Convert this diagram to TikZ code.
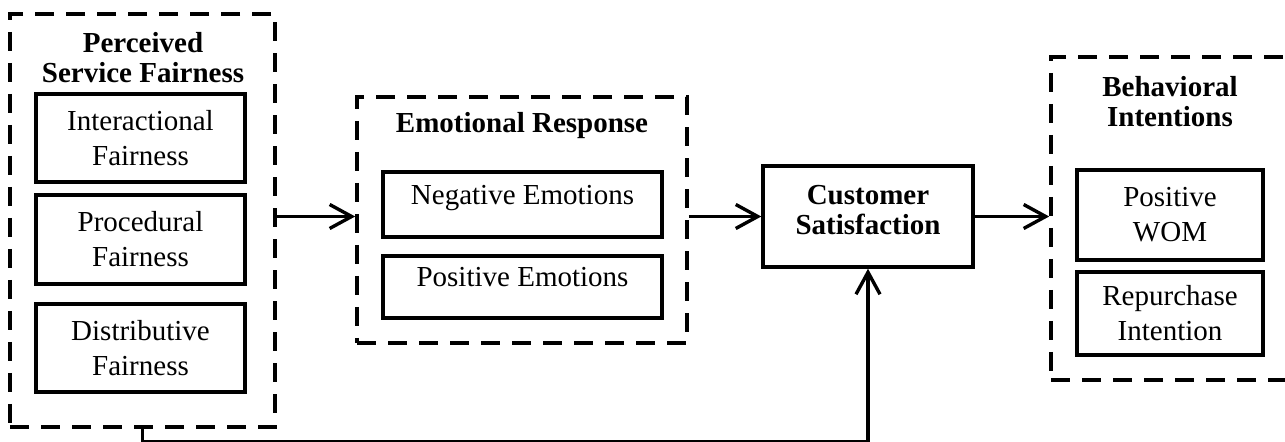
\documentclass[tikz,border=0pt]{standalone}
\usepackage{fontspec}
\setmainfont{Liberation Serif}
\usetikzlibrary{arrows.meta}

\begin{document}
\begin{tikzpicture}[x=0.5pt,y=-0.5pt,
    grp/.style={draw, line width=1.8pt, dash pattern=on 9.5pt off 6pt},
    box/.style={draw, line width=1.7pt, align=center, inner sep=2pt,
        font=\fontsize{14.5pt}{17.5pt}\selectfont},
    ttl/.style={align=center, inner sep=0pt,
        font=\fontsize{14.5pt}{15pt}\selectfont\bfseries},
    flow/.style={line width=1.7pt, -{Straight Barb[length=11pt,width=12pt,line width=1.7pt]}}]
     \useasboundingbox (0,0) rectangle (1285,442);

     \node[grp, minimum width=132.5pt, minimum height=206.5pt] (psf) at (142.5,220.5) {};
     \node[ttl] (psftitle) at (143,58) {Perceived\\Service Fairness};
     \node[box, minimum width=104.5pt, minimum height=44pt] (inter) at (140.5,138) {Interactional\\Fairness};
     \node[box, minimum width=104.5pt, minimum height=44.5pt] (proc) at (140.5,239.5) {Procedural\\Fairness};
     \node[box, minimum width=104.5pt, minimum height=44pt] (dist) at (140.5,348) {Distributive\\Fairness};

     \node[grp, minimum width=165pt, minimum height=123pt] (er) at (522,220) {};
     \node[ttl] (ertitle) at (522,126) {Emotional Response};
     \node[box, minimum width=139.5pt, minimum height=32.5pt, text height=8pt, text depth=8pt] (neg) at (522.5,204.5) {Negative Emotions};
     \node[box, minimum width=139.5pt, minimum height=31pt, text height=8pt, text depth=8pt] (pos) at (522.5,287) {Positive Emotions};

     \node[box, ttl, inner sep=2pt, minimum width=105pt, minimum height=50.5pt, text depth=7pt] (cs) at (868,216.5) {Customer\\Satisfaction};

     \node[grp, minimum width=124.5pt, minimum height=161.5pt] (bi) at (1175.5,218.5) {};
     \node[ttl] (bititle) at (1170,102) {Behavioral\\Intentions};
     \node[box, minimum width=93pt, minimum height=45pt] (wom) at (1170,215) {Positive\\WOM};
     \node[box, minimum width=93pt, minimum height=41.5pt] (rep) at (1170,313.5) {Repurchase\\Intention};

     \draw[flow] (psf.east |- cs.west) -- (er.west |- cs.west);
     \draw[flow] (er.east |- cs.west) -- (cs.west);
     \draw[flow] (cs.east) -- (bi.west |- cs.east);
     \draw[flow] (psf.south) -- ++(0,13) -| (cs.south);
\end{tikzpicture}
\end{document}
